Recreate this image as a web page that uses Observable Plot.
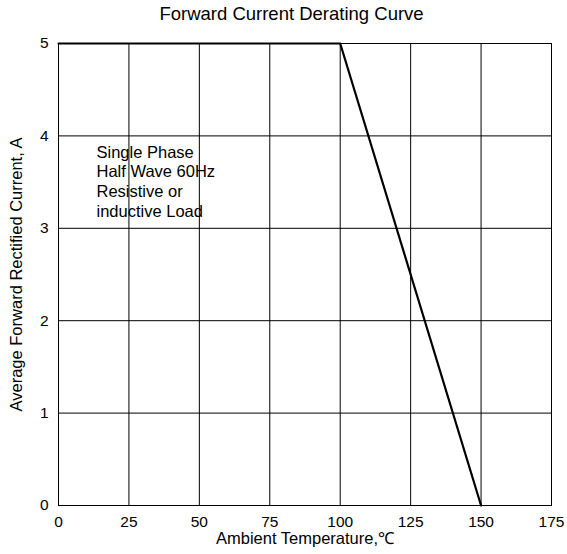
<!DOCTYPE html>
<html><head><meta charset="utf-8">
<script src="https://cdn.jsdelivr.net/npm/d3@7"></script>
<script src="https://cdn.jsdelivr.net/npm/@observablehq/plot@0.6"></script>
<style>body{margin:0;background:#fff;} svg{font-family:"Liberation Sans",Arial,sans-serif;}</style>
</head><body><div id="chart"></div>
<script>
const temps = [0, 100, 150];
const currents = [5, 5, 0];
const xTicks = [0, 25, 50, 75, 100, 125, 150, 175];
const yTicks = [0, 1, 2, 3, 4, 5];
const title = "Forward Current Derating Curve";
const xLabel = "Ambient Temperature,\u2103";
const yLabel = "Average Forward Rectified Current, A";
const noteLines = ["Single Phase", "Half Wave 60Hz", "Resistive or", "inductive Load"];

const data = temps.map((t, i) => ({t, c: currents[i]}));

const chart = Plot.plot({
  width: 567, height: 554,
  marginTop: 43, marginLeft: 58, marginRight: 16, marginBottom: 49,
  style: {fontFamily: "Liberation Sans, Arial, sans-serif", fontSize: "15.5px", color: "#000", background: "#fff"},
  x: {domain: [0, 175], ticks: xTicks, tickSize: 0, tickPadding: 10, label: null, tickFormat: d => String(d)},
  y: {domain: [0, 5], ticks: yTicks, tickSize: 0, tickPadding: 10, label: null, tickFormat: d => String(d)},
  marks: [
    Plot.gridX(xTicks, {stroke: "#000", strokeOpacity: 1, strokeWidth: 1}),
    Plot.gridY(yTicks, {stroke: "#000", strokeOpacity: 1, strokeWidth: 1}),
    Plot.frame({stroke: "#000", strokeWidth: 1}),
    Plot.line(data, {x: "t", y: "c", stroke: "#000", strokeWidth: 2.2}),
    Plot.text([noteLines.join("\n")], {frameAnchor: "top-left", lineAnchor: "top", dx: 38, dy: 100, text: d => d, fontSize: 16.5, lineHeight: 1.2, fill: "#000", textAnchor: "start"}),
    Plot.text([title], {frameAnchor: "top-left", lineAnchor: "middle", textAnchor: "middle", dx: 233, dy: -29, text: d => d, fontSize: 18.5, fill: "#000"}),
    Plot.text([xLabel], {frameAnchor: "bottom", lineAnchor: "middle", textAnchor: "middle", dy: 33, text: d => d, fontSize: 16.5, fill: "#000"}),
    Plot.text([yLabel], {frameAnchor: "left", lineAnchor: "middle", textAnchor: "middle", dx: -41.5, rotate: -90, text: d => d, fontSize: 16.5, fill: "#000"})
  ]
});
document.getElementById("chart").append(chart);
</script>
</body></html>
